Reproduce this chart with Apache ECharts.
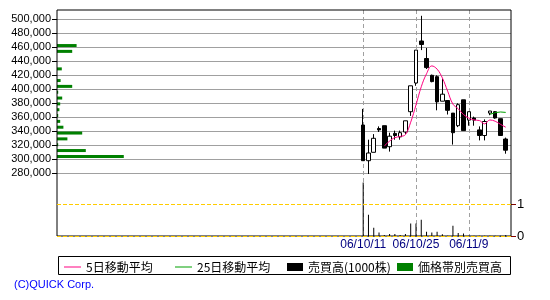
<!DOCTYPE html>
<html><head><meta charset="utf-8">
<script src="https://cdn.jsdelivr.net/npm/echarts@6/dist/echarts.min.js"></script>
<style>html,body{margin:0;padding:0;background:#fff}#c{width:550px;height:300px}</style>
</head><body><div id="c"></div>
<script>
// ---- data ----
const dates = ['06/10/11','06/10/12','06/10/13','06/10/16','06/10/17','06/10/18','06/10/19','06/10/20','06/10/23','06/10/24','06/10/25','06/10/26','06/10/27','06/10/30','06/10/31','06/11/1','06/11/2','06/11/6','06/11/7','06/11/8','06/11/9','06/11/10','06/11/13','06/11/14','06/11/15','06/11/16','06/11/17','06/11/20'];
const opens  = [349000,298000,310000,344000,348000,318000,337000,332000,339000,368000,409000,469000,444000,420000,418000,383000,384000,366000,348000,385000,356000,359000,342000,334000,366000,368000,358000,329000];
const closes = [298000,309000,330000,342000,316000,333000,334000,338000,355000,405000,456000,464000,431000,411000,382000,393000,370000,338000,378000,341000,368000,356000,334000,354000,369000,359000,334000,313000];
const lows   = [298000,279000,310000,339000,316000,311000,328000,328000,336000,362000,405000,456000,429000,410000,370000,383000,364000,321000,346000,341000,348000,348000,327000,327000,363000,358000,334000,308000];
const highs  = [372000,328000,336000,347000,348000,338000,341000,341000,355000,405000,456000,505000,459000,421000,420000,415000,384000,366000,380000,385000,368000,361000,347000,357000,369000,369000,358000,331000];
const ma5    = [null,null,null,null,319000,326000,331000,332600,335200,353000,377600,403600,422200,433400,428800,416200,397400,378800,372200,364000,359000,356200,355400,350600,356200,354400,350000,345800];
const ma25   = [null,null,null,null,null,null,null,null,null,null,null,null,null,null,null,null,null,null,null,null,null,null,null,null,364200,366600,367600,367000];
const volumes = [1.67,0.67,0.27,0.12,0.05,0.08,0.08,0.05,0.08,0.40,0.40,0.52,0.15,0.12,0.15,0.07,0.02,0.33,0.11,0.09,0.02,0.02,0.02,0.02,0.02,0.02,0.02,0.05];
const labelDates = ['06/10/11','06/10/25','06/11/9'];
const bandLows = [300000,308333,316667,325000,333333,341667,350000,358333,366667,375000,383333,391667,400000,408333,416667,425000,433333,441667,450000,458333];
const bandVolumes = [1670,720,30,260,630,160,80,30,60,80,130,30,380,90,0,120,0,0,380,490];
const priceTicks = {min:280000, max:500000, step:20000};
const volTicks = [0,1];
const names = {ma5:'5日移動平均', ma25:'25日移動平均', vol:'売買高(1000株)', prof:'価格帯別売買高'};

// ---- layout ----
const leadSlots = 58, tailSlots = 1;
const L = 57, W = 454;
const frameTop = 10, frameH = 226;
const priceTop = 19.3, priceH = 154;
const volMax = 7, volH = 226.5;
const bandStep = 25000/3;
const profileMax = 11350;
const bandHigh = bandLows[bandLows.length-1] + bandStep;
const pxPerYen = priceH / (priceTicks.max - priceTicks.min);
const bandTop = priceTop + (priceTicks.max - bandHigh) * pxPerYen;
const bandH = (bandHigh - bandLows[0]) * pxPerYen;

const pad = (arr, fill) => Array(leadSlots).fill(fill).concat(arr, Array(tailSlots).fill(fill));
const cats = pad(dates, '');
const candle = pad(dates.map((d,i)=>[opens[i],closes[i],lows[i],highs[i]]), '-');

const fmt = v => String(v).replace(/\B(?=(\d{3})+(?!\d))/g, ',');
const legendBase = (extra) => Object.assign({orient:'horizontal', padding:0, itemGap:0, itemWidth:17, itemHeight:8, selectedMode:false,
  textStyle:{fontSize:12, color:'#000', fontFamily:'Noto Sans CJK JP'}}, extra);

const chart = echarts.init(document.getElementById('c'), null, {renderer:'canvas'});
chart.setOption({
  animation:false,
  backgroundColor:'#fff',
  title:{text:'(C)QUICK Corp.', left:14, top:279, padding:0,
    textStyle:{fontSize:11, fontWeight:'normal', color:'#0000ff', fontFamily:'Liberation Sans'}},
  legend:[
    legendBase({data:[{name:names.ma5, icon:'rect'}], left:64, top:261, itemHeight:1, itemStyle:{color:'#ff0080', borderWidth:0}}),
    legendBase({data:[{name:names.ma25, icon:'rect'}], left:175, top:261, itemHeight:1, itemStyle:{color:'#00a000', borderWidth:0}}),
    legendBase({data:[{name:names.vol, icon:'rect'}], left:287, top:261, itemWidth:16}),
    legendBase({data:[{name:names.prof, icon:'rect'}], left:397, top:261, itemWidth:16})
  ],
  graphic:[{type:'rect', shape:{x:58.5, y:256.5, width:452, height:18}, style:{fill:'none', stroke:'#000', lineWidth:1}, z:-1}],
  grid:[
    {left:L, top:frameTop, width:W, height:frameH, show:true, borderColor:'#000', borderWidth:1, backgroundColor:'transparent', z:5},
    {left:L, top:priceTop, width:W, height:priceH},
    {left:L, top:frameTop, width:W, height:volH},
    {left:L, top:bandTop, width:W, height:bandH}
  ],
  xAxis:[
    {type:'category', gridIndex:0, data:cats, boundaryGap:false,
      axisLine:{show:false}, axisTick:{show:false},
      axisLabel:{interval:(i,v)=>labelDates.includes(v), color:'#000080', fontSize:12, margin:3, fontFamily:'Liberation Sans'},
      splitLine:{show:true, interval:(i,v)=>labelDates.includes(v), lineStyle:{color:'#a0a0a0', type:[4,3], width:1}}},
    {type:'category', gridIndex:1, data:cats, boundaryGap:false, show:false},
    {type:'category', gridIndex:2, data:cats, boundaryGap:false, show:false},
    {type:'value', gridIndex:3, min:0, max:profileMax, show:false}
  ],
  yAxis:[
    {type:'value', gridIndex:0, min:0, max:1, show:false},
    {type:'value', gridIndex:1, min:priceTicks.min, max:priceTicks.max, interval:priceTicks.step, position:'left',
      axisLine:{show:false}, axisTick:{show:true, length:5, lineStyle:{color:'#000'}},
      axisLabel:{formatter:fmt, fontSize:11, color:'#000', margin:6, fontFamily:'Liberation Sans'},
      splitLine:{show:true, lineStyle:{color:'#a0a0a0', width:1}}},
    {type:'value', gridIndex:2, min:0, max:volMax, interval:1, position:'right',
      axisLine:{show:false},
      axisTick:{show:true, customValues:volTicks, length:5, lineStyle:{color:'#800000'}},
      axisLabel:{customValues:volTicks, fontSize:13, color:'#000', margin:6, fontFamily:'Liberation Sans'},
      splitLine:{show:false}},
    {type:'category', gridIndex:3, data:bandLows.map(String), show:false}
  ],
  series:[
    {type:'bar', name:names.prof, xAxisIndex:3, yAxisIndex:3, data:bandVolumes, barWidth:3,
      itemStyle:{color:'#008000'}, silent:true},
    {type:'bar', name:names.vol, xAxisIndex:2, yAxisIndex:2, data:pad(volumes, null), barWidth:1,
      itemStyle:{color:'#000'}, silent:true,
      markLine:{silent:true, symbol:['none','none'], label:{show:false},
        lineStyle:{color:'#ffcc00', type:[4,2], width:1}, data:volTicks.map(v=>({yAxis:v}))}},
    {type:'candlestick', name:'price', xAxisIndex:1, yAxisIndex:1, data:candle, barWidth:4, clip:false,
      itemStyle:{color:'#fff', color0:'#000', borderColor:'#000', borderColor0:'#000', borderWidth:1}},
    {type:'line', name:names.ma5, xAxisIndex:1, yAxisIndex:1, data:pad(ma5, null), symbol:'none', smooth:0.4,
      color:'#ff0080', lineStyle:{color:'#ff0080', width:1}, z:3},
    {type:'line', name:names.ma25, xAxisIndex:1, yAxisIndex:1, data:pad(ma25, null), symbol:'none',
      color:'#00a000', lineStyle:{color:'#00a000', width:1}, z:3}
  ]
});
</script></body></html>
